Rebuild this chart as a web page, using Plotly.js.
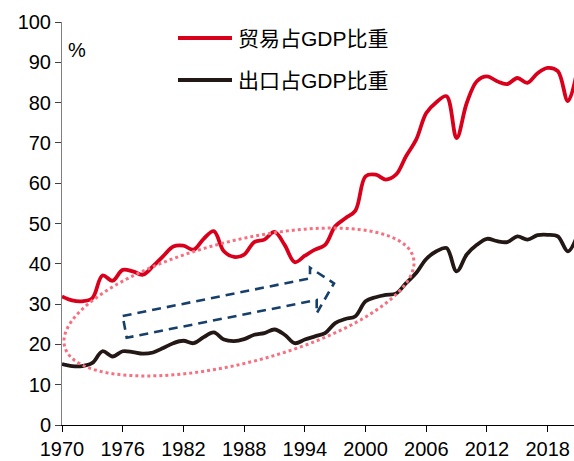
<!DOCTYPE html>
<html>
<head>
<meta charset="utf-8">
<script src="https://cdn.plot.ly/plotly-3.0.1.min.js"></script>
<style>html,body{margin:0;padding:0;background:#fff;}#chart{width:574px;height:461px;}</style>
</head>
<body>
<div id="chart"></div>
<script>
// ---- data ----
const years = [1970,1971,1972,1973,1974,1975,1976,1977,1978,1979,
               1980,1981,1982,1983,1984,1985,1986,1987,1988,1989,
               1990,1991,1992,1993,1994,1995,1996,1997,1998,1999,
               2000,2001,2002,2003,2004,2005,2006,2007,2008,2009,
               2010,2011,2012,2013,2014,2015,2016,2017,2018,2019,
               2020,2021];
const tradeShare = [31.9,30.9,30.7,31.5,37.1,35.8,38.5,38.1,37.3,39.4,
                    41.9,44.3,44.5,43.5,46.2,48.1,43.1,41.7,42.3,45.4,
                    46.0,47.9,44.7,40.4,42.0,43.5,44.7,49.3,51.3,53.2,
                    61.7,62.1,60.9,62.1,66.7,70.8,77.4,80.1,81.6,71.2,
                    79.9,85.3,86.5,85.3,84.6,86.1,84.9,87.3,88.6,87.8,
                    80.4,89.0];
const exportShare = [15.1,14.6,14.6,15.4,18.3,17.0,18.3,18.1,17.7,18.0,
                     19.1,20.3,20.9,20.3,21.8,23.0,21.2,20.8,21.3,22.4,
                     22.8,23.7,22.4,20.3,21.2,22.0,22.8,25.3,26.3,27.0,
                     30.7,31.7,32.3,32.6,35.2,37.7,41.2,43.1,43.9,38.1,
                     42.3,44.7,46.2,45.6,45.4,46.8,46.0,47.1,47.2,46.8,
                     43.1,47.5];
const seriesNames = ['贸易占GDP比重', '出口占GDP比重'];
const xTicks = [1970,1976,1982,1988,1994,2000,2006,2012,2018];
const yUnit = '%';

// ---- style / layout ----
const RED = '#d9001b';
const BLACK = '#231815';
const FONT = 'Liberation Sans, Arial, Noto Sans CJK SC, sans-serif';

// plot area in pixels (for decorative shapes)
const L = 62, R = 574, T = 22, B = 425;
function px(x, y){ return [(x - L) / (R - L), (B - y) / (B - T)]; }
function pathFrom(pts, close){
  return pts.map((p,i)=>{ const q = px(p[0],p[1]); return (i?'L':'M') + q[0].toFixed(5) + ',' + q[1].toFixed(5); }).join(' ') + (close?' Z':'');
}
// rotated ellipse (decoration)
const ell = [];
{
  const cx = 239, cy = 302, a = 180, b = 61, th = -14.3 * Math.PI / 180;
  for (let i = 0; i <= 120; i++) {
    const t = i / 120 * 2 * Math.PI;
    ell.push([cx + a*Math.cos(th)*Math.cos(t) - b*Math.sin(th)*Math.sin(t),
              cy + a*Math.sin(th)*Math.cos(t) + b*Math.cos(th)*Math.sin(t)]);
  }
}
const arrow = [[122.7,316],[310,278.3],[310,267.7],[334,283.3],[316.7,313.3],[316.7,300],[126.7,337.7]];

const traces = [
  {x: years, y: tradeShare, type: 'scatter', mode: 'lines', name: seriesNames[0],
   line: {color: RED, width: 3.8, shape: 'spline', smoothing: 1}, showlegend: false, hoverinfo: 'x+y'},
  {x: years, y: exportShare, type: 'scatter', mode: 'lines', name: seriesNames[1],
   line: {color: BLACK, width: 3.8, shape: 'spline', smoothing: 1}, showlegend: false, hoverinfo: 'x+y'}
];

const legY1 = px(0, 38)[1], legY2 = px(0, 80)[1];
const legX0 = px(178, 0)[0], legX1 = px(232, 0)[0], legTx = px(236, 0)[0];

const layout = {
  width: 574, height: 461,
  margin: {l: L, r: 574 - R, t: T, b: 461 - B, pad: 0},
  paper_bgcolor: '#fff', plot_bgcolor: '#fff',
  font: {family: FONT, size: 20, color: '#000'},
  showlegend: false,
  xaxis: {range: [1970, 2020.6], tickvals: xTicks, ticktext: xTicks.map(String),
          showgrid: false, zeroline: false, showline: true, linecolor: '#000', linewidth: 1,
          ticks: 'outside', ticklen: 6, tickcolor: '#000', tickwidth: 1,
          tickfont: {family: FONT, size: 20, color: '#000'}, fixedrange: true},
  yaxis: {range: [0, 100], dtick: 10, tick0: 0,
          showgrid: false, zeroline: false, showline: true, linecolor: '#7f7f7f', linewidth: 1,
          ticks: 'outside', ticklen: 6, tickcolor: '#404040', tickwidth: 1,
          tickfont: {family: FONT, size: 20, color: '#000'}, fixedrange: true},
  shapes: [
    {type: 'path', xref: 'paper', yref: 'paper', path: pathFrom(ell, true),
     line: {color: '#f7707f', width: 3, dash: 'dot'}, fillcolor: 'rgba(0,0,0,0)'},
    {type: 'path', xref: 'paper', yref: 'paper', path: pathFrom(arrow, true),
     line: {color: '#173f6b', width: 2.6, dash: '9px,6px'}, fillcolor: 'rgba(0,0,0,0)'},
    {type: 'line', xref: 'paper', yref: 'paper', x0: legX0, x1: legX1, y0: legY1, y1: legY1,
     line: {color: RED, width: 4}},
    {type: 'line', xref: 'paper', yref: 'paper', x0: legX0, x1: legX1, y0: legY2, y1: legY2,
     line: {color: BLACK, width: 4}}
  ],
  annotations: [
    {xref: 'paper', yref: 'paper', x: legTx, y: legY1, xanchor: 'left', yanchor: 'middle',
     text: seriesNames[0], showarrow: false, font: {family: FONT, size: 21, color: '#000'}},
    {xref: 'paper', yref: 'paper', x: legTx, y: legY2, xanchor: 'left', yanchor: 'middle',
     text: seriesNames[1], showarrow: false, font: {family: FONT, size: 21, color: '#000'}},
    {xref: 'paper', yref: 'paper', x: px(77,0)[0], y: px(0,50)[1], xanchor: 'center', yanchor: 'middle',
     text: yUnit, showarrow: false, font: {family: FONT, size: 20, color: '#000'}}
  ]
};

Plotly.newPlot('chart', traces, layout, {displayModeBar: false, staticPlot: true});
</script>
</body>
</html>
